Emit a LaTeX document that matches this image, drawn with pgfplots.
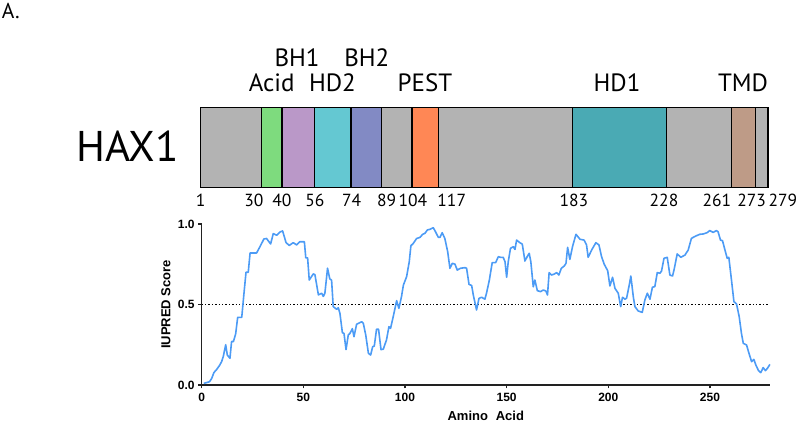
\documentclass[border=0pt]{standalone}
\usepackage{pgfplots}
\pgfplotsset{compat=1.18}
\usepackage{fontspec}
\setmainfont{Liberation Sans}
\newfontfamily\domfont{PT Sans}

\definecolor{domgray}{HTML}{B3B3B3}
\definecolor{acid}{HTML}{7EDB7E}
\definecolor{bhone}{HTML}{BA98C8}
\definecolor{hdtwo}{HTML}{64C8D2}
\definecolor{bhtwo}{HTML}{828AC4}
\definecolor{pest}{HTML}{FF8755}
\definecolor{hdone}{HTML}{4AAAB4}
\definecolor{tmd}{HTML}{BE9B87}
\definecolor{iupred}{HTML}{4C9BF5}
\definecolor{axisdark}{HTML}{222222}

\newcommand{\labfont}{\domfont\fontsize{25}{26}\selectfont}
\newcommand{\numfont}{\domfont\fontsize{17.5}{18}\selectfont}
\newcommand{\tickfont}{\fontsize{12}{13}\selectfont\bfseries}
\newcommand{\axlabfont}{\fontsize{13}{14}\selectfont\bfseries}

\begin{document}
\begin{tikzpicture}
\useasboundingbox (-201.7pt,-37pt) rectangle (596.3pt,385pt);
\node[anchor=base west, inner sep=0pt, font=\domfont\fontsize{21.5}{22}\selectfont] at (-200pt,366pt) {A.};

% IUPred score profile
\begin{axis}[
  scale only axis,
  width=568.2pt, height=161pt,
  xmin=0, xmax=279.5, ymin=0, ymax=1,
  axis x line*=bottom, axis y line*=left,
  axis line style={axisdark, line width=1.5pt},
  tick style={axisdark, line width=1.5pt},
  tick align=outside, major tick length=3.5pt,
  xtick={0,50,...,250}, ytick={0,0.5,1},
  /pgf/number format/assume math mode=true,
  xticklabel style={font=\tickfont, yshift=-1.5pt},
  yticklabel style={font=\tickfont, /pgf/number format/fixed, /pgf/number format/fixed zerofill, /pgf/number format/precision=1},
  xlabel={Amino\hspace{0.6em}Acid},
  ylabel={IUPRED Score},
  xlabel style={font=\axlabfont, at={(axis description cs:0.5,-0.2205)}, anchor=base},
  ylabel style={font=\axlabfont, at={(axis description cs:-0.063,0.5)}, anchor=center},
  clip=false,
]
\addplot[black, line width=1.4pt, dash pattern=on 1.4pt off 2pt] coordinates {(0,0.5) (278.5,0.5)};
\addplot[iupred, line width=1.6pt, line join=round] coordinates {
(1,0.01) (2.4,0.015) (3.8,0.02) (4.9,0.04) (6,0.077) (7.4,0.097) (8.7,0.12) (9.8,0.145)
(10.6,0.176) (11.8,0.25) (12.6,0.186) (13.9,0.166) (14.7,0.27) (15.6,0.27) (16.7,0.317)
(17.7,0.42) (19.7,0.42) (20.8,0.57) (21.8,0.70) (22.9,0.70) (23.8,0.82) (25.4,0.82)
(27,0.82) (28.7,0.86) (30.6,0.907) (31.9,0.91) (33.9,0.876) (35.2,0.94) (36.9,0.93)
(38.5,0.95) (39.8,0.957) (41.5,0.884) (43.1,0.867) (45,0.884) (46.7,0.87) (48.3,0.89)
(50.5,0.89) (51.2,0.79) (52.1,0.79) (52.9,0.652) (54.9,0.69) (55.7,0.685) (57.4,0.56)
(59,0.57) (59.8,0.55) (60.6,0.57) (61.9,0.725) (63,0.66) (63.9,0.65) (64.7,0.487)
(66.4,0.47) (67.2,0.48) (68,0.445) (69.2,0.325) (70,0.32) (71,0.22) (72.1,0.31)
(72.9,0.32) (74.1,0.35) (74.9,0.30) (76.2,0.377) (78.7,0.393) (79.5,0.383) (80.7,0.31)
(82,0.197) (83.1,0.186) (84.1,0.238) (84.9,0.242) (86,0.346) (87,0.346) (88.2,0.22)
(89.3,0.222) (90.9,0.28) (92.1,0.362) (92.9,0.352) (94.2,0.424) (95.9,0.524) (97,0.476)
(98.3,0.55) (99.2,0.62) (100.8,0.673) (102.1,0.766) (102.9,0.865) (104.1,0.88)
(105.7,0.91) (107.4,0.917) (108.7,0.936) (109.8,0.942) (111,0.963) (112.3,0.967)
(113.9,0.977) (115,0.952) (116.4,0.917) (117.2,0.917) (118.3,0.946) (119.6,0.91)
(121,0.828) (122.1,0.725) (123.3,0.756) (124.6,0.75) (125.7,0.714) (127.3,0.725)
(129.5,0.729) (130.3,0.725) (131.5,0.625) (132.8,0.618) (133.6,0.559) (135.2,0.466)
(136.4,0.538) (137.7,0.545) (139.3,0.533) (140.1,0.57) (141.5,0.652) (142.9,0.76)
(144.6,0.76) (145.9,0.797) (147,0.793) (148.3,0.793) (149.2,0.766) (150,0.669)
(150.8,0.766) (151.9,0.849) (153.3,0.859) (154.1,0.842) (154.9,0.90) (156.5,0.884)
(157.7,0.875) (159,0.77) (160.1,0.797) (161.1,0.818) (161.9,0.766) (163.1,0.61)
(163.9,0.652) (165.1,0.586) (166.7,0.58) (168,0.59) (169.3,0.584) (170.1,0.559)
(170.9,0.698) (172.1,0.683) (173.4,0.689) (174.6,0.698) (175.7,0.683) (176.9,0.725)
(178.4,0.74) (179.2,0.756) (180,0.855) (181.1,0.78) (182.4,0.859) (184.1,0.936)
(186.1,0.905) (188.1,0.9) (189.3,0.87) (190.1,0.793) (191.8,0.838) (193.9,0.884)
(195.4,0.87) (196.7,0.797) (198,0.75) (199.7,0.71) (200.8,0.615) (202.1,0.669)
(203.3,0.6) (204.9,0.57) (206.1,0.487) (207,0.545) (208.2,0.533) (209,0.539)
(210.3,0.62) (211.1,0.677) (212.3,0.549) (213.1,0.487) (214.7,0.46) (216.7,0.451)
(218,0.528) (219.2,0.57) (220.5,0.533) (221.7,0.607) (222.9,0.611) (224.1,0.698)
(225.4,0.694) (226.2,0.708) (227.4,0.787) (229,0.793) (230.3,0.683) (231.6,0.677)
(232.4,0.718) (233.9,0.814) (235.7,0.793) (237.7,0.807) (239.3,0.838) (240.9,0.911)
(243,0.925) (245,0.936) (246.7,0.938) (248.6,0.946) (249.9,0.959) (251.6,0.948)
(253.2,0.959) (254,0.952) (255.2,0.9) (256.2,0.896) (257.4,0.838) (258.5,0.787)
(259.3,0.793) (260.6,0.652) (261.8,0.518) (263.1,0.503) (264.4,0.424) (265.5,0.321)
(266.4,0.259) (268,0.249) (269.3,0.193) (270.5,0.145) (271.6,0.159) (272.6,0.124)
(273.9,0.089) (275,0.077) (276.2,0.108) (277.3,0.089) (278.3,0.104) (279.5,0.128)
};
\end{axis}

% domain map of HAX1
\begin{axis}[
  at={(0pt,197.7pt)}, anchor=south west,
  scale only axis,
  width=568.2pt, height=80pt,
  xmin=0, xmax=279.5, ymin=0, ymax=1,
  hide axis, clip=false,
]
\addplot[draw=black, line width=1.3pt, fill=domgray] coordinates {(-0.5,0) (278.5,0) (278.5,1) (-0.5,1)} -- cycle;
\addplot[draw=black, line width=1.3pt, fill=acid] coordinates {(29.5,0) (39.5,0) (39.5,1) (29.5,1)} -- cycle;
\addplot[draw=black, line width=1.3pt, fill=bhone] coordinates {(39.5,0) (55.5,0) (55.5,1) (39.5,1)} -- cycle;
\addplot[draw=black, line width=1.3pt, fill=hdtwo] coordinates {(55.5,0) (73.5,0) (73.5,1) (55.5,1)} -- cycle;
\addplot[draw=black, line width=1.3pt, fill=bhtwo] coordinates {(73.5,0) (88.5,0) (88.5,1) (73.5,1)} -- cycle;
\addplot[draw=black, line width=1.3pt, fill=pest] coordinates {(103.5,0) (116.5,0) (116.5,1) (103.5,1)} -- cycle;
\addplot[draw=black, line width=1.3pt, fill=hdone] coordinates {(182.5,0) (228.5,0) (228.5,1) (182.5,1)} -- cycle;
\addplot[draw=black, line width=1.3pt, fill=tmd] coordinates {(260.5,0) (272.5,0) (272.5,1) (260.5,1)} -- cycle;

\node[anchor=base, font=\domfont\fontsize{43}{44}\selectfont] at (axis cs:-36.5,0.32) {HAX1};

\node[anchor=base, font=\labfont] at (axis cs:34.4,1.2) {Acid};
\node[anchor=base, font=\labfont] at (axis cs:64.3,1.2) {HD2};
\node[anchor=base, font=\labfont] at (axis cs:46.9,1.516) {BH1};
\node[anchor=base, font=\labfont] at (axis cs:81.2,1.516) {BH2};
\node[anchor=base, font=\labfont] at (axis cs:109.8,1.2) {PEST};
\node[anchor=base, font=\labfont] at (axis cs:204.3,1.2) {HD1};
\node[anchor=base, font=\labfont] at (axis cs:266.3,1.2) {TMD};

\node[anchor=base, font=\numfont] at (axis cs:-0.5,-0.2425) {1};
\node[anchor=base, font=\numfont] at (axis cs:25.7,-0.2425) {30};
\node[anchor=base, font=\numfont] at (axis cs:39.4,-0.2425) {40};
\node[anchor=base, font=\numfont] at (axis cs:55.7,-0.2425) {56};
\node[anchor=base, font=\numfont] at (axis cs:73.8,-0.2425) {74};
\node[anchor=base, font=\numfont] at (axis cs:91,-0.2425) {89};
\node[anchor=base, font=\numfont] at (axis cs:103.9,-0.2425) {104};
\node[anchor=base, font=\numfont] at (axis cs:123,-0.2425) {117};
\node[anchor=base, font=\numfont] at (axis cs:183.1,-0.2425) {183};
\node[anchor=base, font=\numfont] at (axis cs:227.4,-0.2425) {228};
\node[anchor=base, font=\numfont] at (axis cs:253.4,-0.2425) {261};
\node[anchor=base, font=\numfont] at (axis cs:270.5,-0.2425) {273};
\node[anchor=base, font=\numfont] at (axis cs:285.9,-0.2425) {279};
\end{axis}
\end{tikzpicture}
\end{document}
